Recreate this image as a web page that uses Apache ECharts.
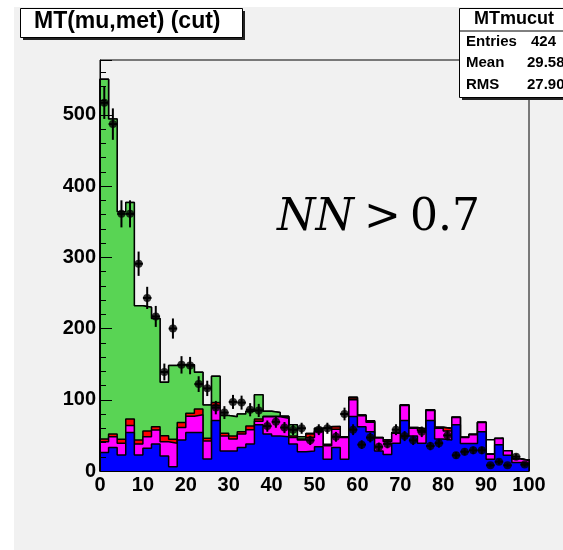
<!DOCTYPE html>
<html><head><meta charset="utf-8">
<script src="https://cdn.jsdelivr.net/npm/echarts/dist/echarts.min.js"></script>
<style>html,body{margin:0;padding:0;background:#fff}#c{width:563px;height:550px}</style>
</head><body><div id="c"></div>
<script>
// ---- data (bin edges, stacked components, observed counts) ----
const binEdges = [0,2,4,6,8,10,12,14,16,18,20,22,24,26,28,30,32,34,36,38,40,42,44,46,48,50,52,54,56,58,60,62,64,66,68,70,72,74,76,78,80,82,84,86,88,90,92,94,96,98,100];
const blueBkg = [26,33,22.5,54,22.5,32,38,21,6,43.5,54,54,17,71,28,28,33,38,65,52,49,48,38,27,28,34,16.4,33,16.4,76.5,62,55,28,23,39,71,49,39,71,45,43.5,65,38.5,38.5,55,16.6,37,22,12,11];
const magentaBkg = [15,15,16.5,10,15.5,16,19.5,20,33,17.5,23,25,25,21,21,17,19,20,5,24,27,26,9,16.5,19,21,18.9,25.5,30.6,23.5,15.5,13.5,18.3,18.5,14,21,11,18,14,15,12.5,10,8.5,12.5,13,7,8.5,6.3,5,3.7];
const redBkg = [4,4,5.5,9,5.5,8,4.5,8.5,5.5,7,4,8,4,4,4,4,3,5,3,1,1,2,2,1.5,5,1,0.3,3.5,0.5,2.5,0.5,1.5,0.2,2,0.5,0.5,0.5,2,0.5,1,3.5,0.3,0.3,0.3,0.3,0.2,0.3,0.2,0.2,0.2];
const greenBkg = [505,442,319.5,304,188.5,174,152,75,103.5,81,68,51.6,46.7,37,25,27,25,21,34,7,5,1,16,3,0.5,4,1.9,0.5,0.5,1,0.5,0.5,0.5,0.5,0.5,0.5,0.5,0.3,0.5,0.3,0.5,0.2,0.2,0.2,0.2,0.2,0.2,0.1,0.1,0.1];
const whiteBkg = [0,0,0,0,0,0,0,0,0,0,0,0,0,0,0,0,0,0,0,0,0,0,0,0,0,0,24.5,0,0,0,0,0,0,0,0,0,0,0,0,0,0,0,0,0,0,20,0,0,0,0];
const dataCounts = [517,487,361,361,291,243,217,139,200,149,148,122,116,89,82,97,96,86,85,63,69,61,58,60,43,58,60,48,80,58,37,47,34,38,58,49,43,55,35,39,50,22,27,29,29,8,13,8,20,9];
const titleText = 'MT(mu,met) (cut)';
const statsName = 'MTmucut';
const statsRows = [['Entries','424'],['Mean','29.58'],['RMS','27.90']];

// ---- build cumulative tops ----
const comps = [blueBkg, magentaBkg, redBkg, greenBkg, whiteBkg];
const cum = [];
let run = blueBkg.map(() => 0);
comps.forEach(c => { run = run.map((v, i) => v + c[i]); cum.push(run.slice()); });
function stepData(tops) {
  const d = [[binEdges[0], 0]];
  tops.forEach((v, i) => d.push([binEdges[i], v]));
  d.push([binEdges[binEdges.length - 1], tops[tops.length - 1]]);
  d.push([binEdges[binEdges.length - 1], 0]);
  return d;
}
const colors = ['#0000ff', '#ff00ff', '#ff0000', '#59d454', '#ffffff'];
const histSeries = [];
for (let k = comps.length - 1; k >= 0; k--) {
  histSeries.push({
    type: 'line', step: 'end', data: stepData(cum[k]), symbol: 'none',
    lineStyle: {color: '#000', width: 1.5}, areaStyle: {color: colors[k], opacity: 1},
    z: 2 + (comps.length - k) * 0.01, silent: true
  });
}
const errRows = dataCounts.map((v, i) => [(binEdges[i] + binEdges[i + 1]) / 2, v, Math.sqrt(v), binEdges[i], binEdges[i + 1]]);

const FONT = 'Liberation Sans, Arial, Helvetica, sans-serif';
const chart = echarts.init(document.getElementById('c'), null, {renderer: 'canvas'});
chart.setOption({
  animation: false,
  backgroundColor: '#f1f1f1',
  grid: {left: 100, top: 60, right: 34, bottom: 79, show: true, borderColor: '#000', borderWidth: 1, backgroundColor: 'transparent'},
  xAxis: [{
    type: 'value', min: 0, max: 100, interval: 10,
    axisLine: {show: true, lineStyle: {color: '#000', width: 1}},
    axisTick: {show: true, inside: true, length: 12, lineStyle: {color: '#000'}},
    minorTick: {show: true, splitNumber: 5, length: 6, lineStyle: {color: '#000'}},
    splitLine: {show: false},
    axisLabel: {color: '#000', fontFamily: FONT, fontWeight: 'bold', fontSize: 20, margin: 4}
  }, {
    type: 'value', min: 0, max: 100, position: 'bottom', z: 10,
    axisLine: {show: true, onZero: false, lineStyle: {color: '#000', width: 1}},
    axisTick: {show: false}, axisLabel: {show: false}, splitLine: {show: false}
  }],
  yAxis: {
    type: 'value', min: 0, max: 577, interval: 100, z: 10,
    axisLine: {show: true, lineStyle: {color: '#000', width: 1}},
    axisTick: {show: true, inside: true, length: 12, lineStyle: {color: '#000'}},
    minorTick: {show: true, splitNumber: 5, length: 6, lineStyle: {color: '#000'}},
    splitLine: {show: false},
    axisLabel: {color: '#000', fontFamily: FONT, fontWeight: 'bold', fontSize: 20, margin: 4, showMaxLabel: false}
  },
  series: histSeries.concat([
    {
      type: 'custom', data: errRows, z: 5, clip: true, silent: true,
      renderItem: function (params, api) {
        const x = api.value(0), y = api.value(1), e = api.value(2);
        const t = api.coord([x, y + e]), b = api.coord([x, Math.max(0, y - e)]);
        const l = api.coord([api.value(3), y]), r = api.coord([api.value(4), y]);
        return {type: 'group', children: [
          {type: 'line', shape: {x1: t[0], y1: t[1], x2: b[0], y2: b[1]}, style: {stroke: '#000', lineWidth: 2}},
          {type: 'line', shape: {x1: l[0], y1: l[1], x2: r[0], y2: r[1]}, style: {stroke: '#000', lineWidth: 2}}
        ]};
      }
    },
    {type: 'scatter', data: errRows.map(r => [r[0], r[1]]), symbol: 'circle', symbolSize: 8, itemStyle: {color: '#000'}, z: 6, silent: true}
  ]),
  graphic: [
    {type: 'rect', left: 0, top: 0, shape: {width: 14, height: 550}, style: {fill: '#ffffff'}, z: 1},
    {type: 'rect', left: 0, top: 0, shape: {width: 563, height: 7}, style: {fill: '#ffffff'}, z: 1},
    // title box
    {type: 'rect', left: 23, top: 11, shape: {width: 222, height: 29}, style: {fill: '#222'}, z: 100},
    {type: 'rect', left: 20, top: 8, shape: {width: 222, height: 29}, style: {fill: '#fff', stroke: '#000', lineWidth: 1}, z: 101},
    {type: 'text', left: 34, top: 10, style: {text: titleText, font: 'bold 23px ' + FONT, fill: '#000'}, z: 102},
    // stats box
    {type: 'rect', left: 462, top: 11, shape: {width: 120, height: 89}, style: {fill: '#222'}, z: 100},
    {type: 'rect', left: 459, top: 8, shape: {width: 120, height: 89}, style: {fill: '#fff', stroke: '#000', lineWidth: 1}, z: 101},
    {type: 'line', shape: {x1: 459, y1: 31, x2: 563, y2: 31}, style: {stroke: '#000', lineWidth: 1}, z: 102},
    {type: 'text', left: 474, top: 10, style: {text: statsName, font: 'bold 18px ' + FONT, fill: '#000'}, z: 102},
    {type: 'text', left: 466, top: 34, style: {text: statsRows[0][0], font: 'bold 15px ' + FONT, fill: '#000'}, z: 102},
    {type: 'text', left: 531, top: 34, style: {text: statsRows[0][1], font: 'bold 15px ' + FONT, fill: '#000'}, z: 102},
    {type: 'text', left: 466, top: 55, style: {text: statsRows[1][0], font: 'bold 15px ' + FONT, fill: '#000'}, z: 102},
    {type: 'text', left: 527, top: 55, style: {text: statsRows[1][1], font: 'bold 15px ' + FONT, fill: '#000'}, z: 102},
    {type: 'text', left: 466, top: 77, style: {text: statsRows[2][0], font: 'bold 15px ' + FONT, fill: '#000'}, z: 102},
    {type: 'text', left: 527, top: 77, style: {text: statsRows[2][1], font: 'bold 15px ' + FONT, fill: '#000'}, z: 102},
    // NN > 0.7 label
    {type: 'text', left: 277, top: 197, style: {text: 'NN', font: 'italic 44px DejaVu Serif', fill: '#000'}, z: 50},
    {type: 'text', left: 364, top: 197, style: {text: '>', font: '44px DejaVu Serif', fill: '#000'}, z: 50},
    {type: 'text', left: 410, top: 197, style: {text: '0.7', font: '44px DejaVu Serif', fill: '#000'}, z: 50}
  ]
});
</script>
</body></html>
